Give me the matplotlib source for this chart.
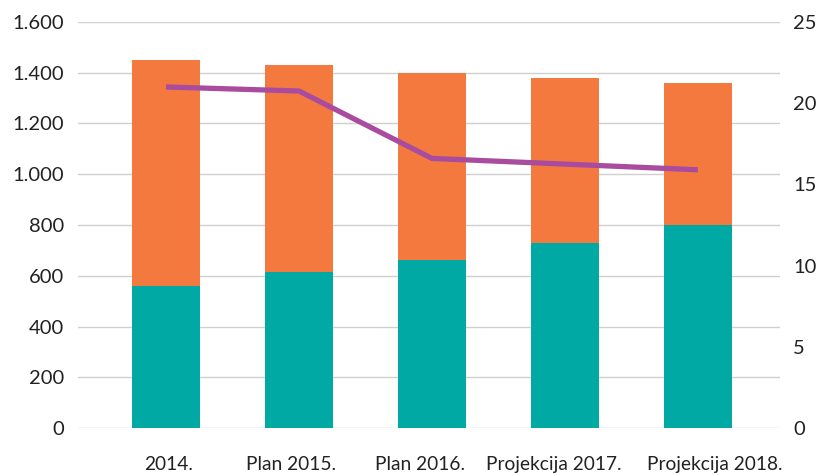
import matplotlib.pyplot as plt
import matplotlib.transforms as mtransforms
import numpy as np

categories = ['2014.', 'Plan 2015.', 'Plan 2016.', 'Projekcija 2017.', 'Projekcija 2018.']
teal_vals = [560, 615, 662, 729, 800]
totals = [1450, 1430, 1400, 1380, 1360]
orange_vals = [t - b for t, b in zip(totals, teal_vals)]
line_vals = [21.0, 20.75, 16.6, 16.25, 15.9]

left_ticks = [0, 200, 400, 600, 800, 1000, 1200, 1400, 1600]
left_labels = ['0', '200', '400', '600', '800', '1.000', '1.200', '1.400', '1.600']
right_ticks = [0, 5, 10, 15, 20, 25]

# the labels are nudged sideways (in px) so the long ones do not collide
label_nudge = [3, -8, -12, -11, 17]

TEAL = '#00A9A4'
ORANGE = '#F4793E'
PURPLE = '#A94C9F'
GRID = '#D0D0D0'

plt.rcParams['font.family'] = ['Lato', 'DejaVu Sans']

fig = plt.figure(figsize=(8.18, 4.76), dpi=100)
ax = fig.add_axes([0.0954, 0.1008, 0.8581, 0.853])
x = np.arange(len(categories))

ax.bar(x, teal_vals, width=0.51, color=TEAL, zorder=2)
ax.bar(x, orange_vals, width=0.51, bottom=teal_vals, color=ORANGE, zorder=2)

ax.set_ylim(0, 1600)
ax.set_xlim(-0.662, 4.617)
ax.set_yticks(left_ticks)
ax.set_yticklabels(left_labels)
ax.yaxis.grid(True, color=GRID, linewidth=1)
ax.set_axisbelow(True)
for s in ax.spines.values():
    s.set_visible(False)
ax.tick_params(axis='both', length=0, labelsize=14.5, colors='#222222')
ax.tick_params(axis='y', pad=10)
ax.set_xticks(x)
ax.set_xticklabels(categories)
ax.tick_params(axis='x', pad=20, labelsize=13.8)
for lab, dx in zip(ax.get_xticklabels(), label_nudge):
    offset = mtransforms.ScaledTranslation(dx / 100, 0, fig.dpi_scale_trans)
    lab.set_transform(lab.get_transform() + offset)

ax2 = ax.twinx()
ax2.plot(x, line_vals, color=PURPLE, linewidth=3.8, solid_capstyle='butt', zorder=3)
ax2.set_ylim(0, 25)
ax2.set_yticks(right_ticks)
for s in ax2.spines.values():
    s.set_visible(False)
ax2.tick_params(axis='y', length=0, labelsize=14.5, colors='#222222', pad=9.5)

fig.savefig('out.png', dpi=100)
